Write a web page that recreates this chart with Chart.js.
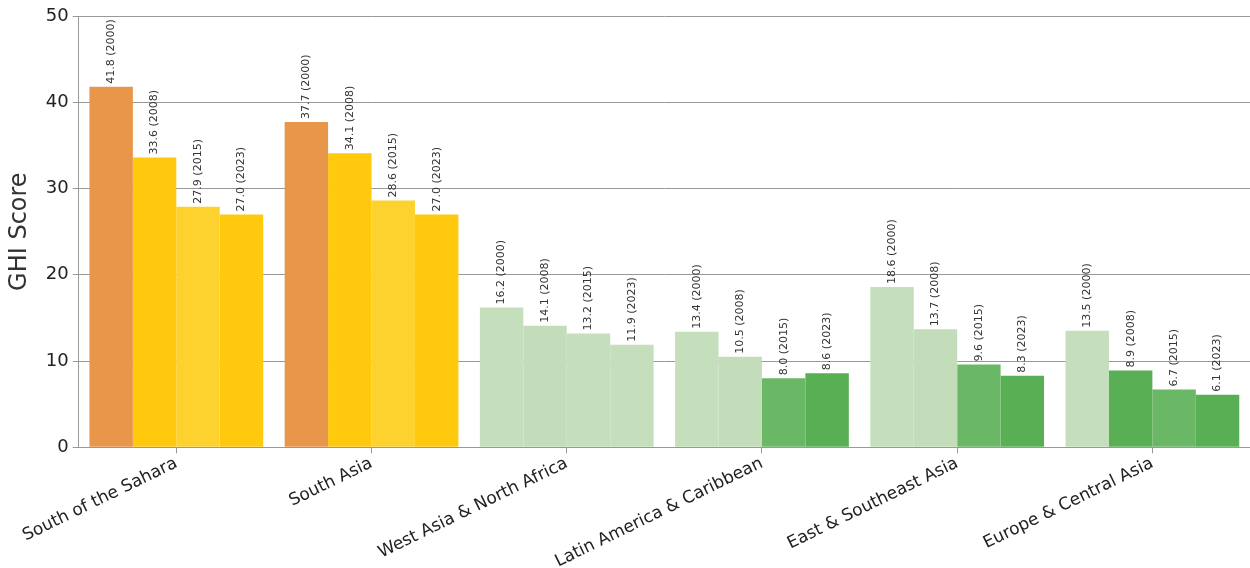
<!DOCTYPE html>
<html>
<head>
<meta charset="utf-8">
<script src="https://cdn.jsdelivr.net/npm/chart.js@4"></script>
<style>
body{margin:0;background:#fff;}
#wrap{width:1250px;height:568px;}
</style>
</head>
<body>
<div id="wrap"><canvas id="ghiChart"></canvas></div>
<script>
// GHI scores by region
const regions=['South of the Sahara','South Asia','West Asia & North Africa','Latin America & Caribbean','East & Southeast Asia','Europe & Central Asia'];
const years=['2000','2008','2015','2023'];
const s2000=[41.8,37.7,16.2,13.4,18.6,13.5];
const s2008=[33.6,34.1,14.1,10.5,13.7,8.9];
const s2015=[27.9,28.6,13.2,8.0,9.6,6.7];
const s2023=[27.0,27.0,11.9,8.6,8.3,6.1];
const yTicks=[0,10,20,30,40,50];

// severity colours, 2015 bars a touch lighter
function colorFor(v,yi){
	if(v>=35) return '#E8964A';
	if(v>=20) return yi==2 ? '#FDD22E' : '#FFC90E';
	if(v>=10) return yi==1 ? '#C3DDBA' : '#C5DFBD';
	return yi==2 ? '#6AB865' : '#59AF53';
}

const series=[s2000,s2008,s2015,s2023];
const datasets=series.map(function(d,i){
	return {
		label:years[i],
		data:d,
		backgroundColor:d.map(function(v){return colorFor(v,i);}),
		borderWidth:0,
		barPercentage:1,
		categoryPercentage:0.89
	};
});

// rotated value labels above bars
const barLabels={
	id:'barLabels',
	afterDatasetsDraw(chart){
		const ctx=chart.ctx;
		ctx.save();
		ctx.font='11px "DejaVu Sans"';
		ctx.fillStyle='#333';
		ctx.textAlign='left';
		ctx.textBaseline='middle';
		chart.data.datasets.forEach(function(ds,i){
			chart.getDatasetMeta(i).data.forEach(function(bar,j){
				ctx.save();
				ctx.translate(bar.x,bar.y-3);
				ctx.rotate(-Math.PI/2);
				ctx.fillText(ds.data[j].toFixed(1)+' ('+years[i]+')',0,0);
				ctx.restore();
			});
		});
		ctx.restore();
	}
};

const ctx=document.getElementById('ghiChart').getContext('2d');
new Chart(ctx,{
	type:'bar',
	data:{labels:regions,datasets:datasets},
	plugins:[barLabels],
	options:{
		responsive:true,
		maintainAspectRatio:false,
		animation:false,
		layout:{padding:{top:16,right:0,left:1,bottom:-4}},
		plugins:{legend:{display:false},tooltip:{enabled:false}},
		scales:{
			x:{
				grid:{display:true,drawOnChartArea:false,color:'#999',tickLength:6,offset:false},
				border:{color:'#999'},
				ticks:{color:'#222',font:{family:'DejaVu Sans',size:17},maxRotation:26,minRotation:26,padding:0}
			},
			y:{
				min:0,max:50,
				afterBuildTicks:function(axis){axis.ticks=yTicks.map(function(v){return {value:v};});},
				grid:{color:'#999',tickLength:6},
				border:{color:'#999'},
				ticks:{color:'#222',font:{family:'DejaVu Sans',size:18},padding:4},
				title:{display:true,text:'GHI Score',color:'#333',font:{family:'DejaVu Sans',size:24},padding:{bottom:8}}
			}
		}
	}
});
</script>
</body>
</html>
